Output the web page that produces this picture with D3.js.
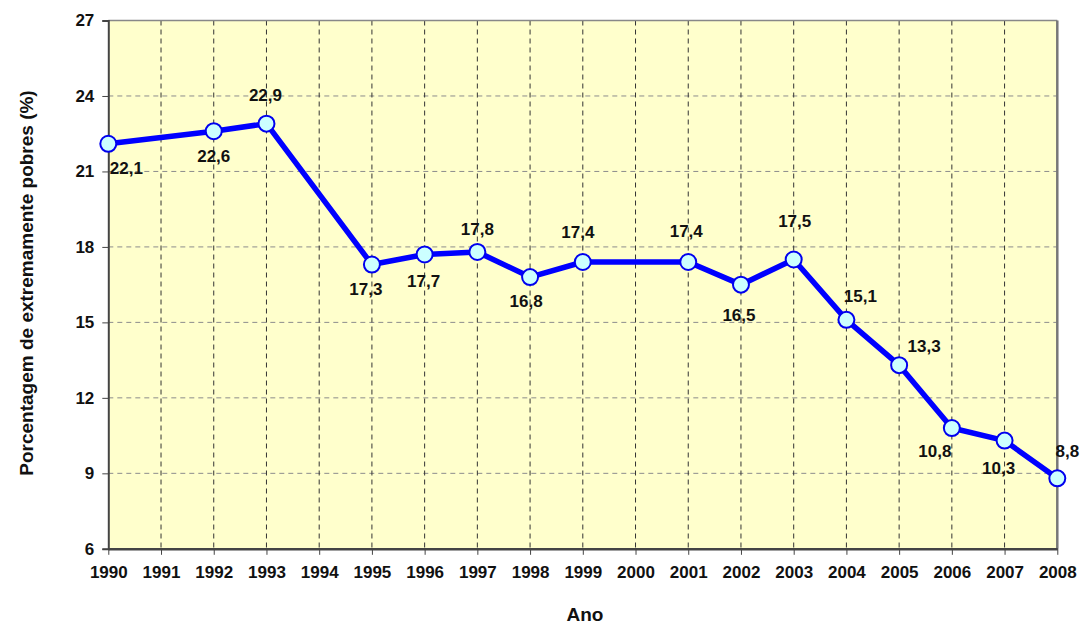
<!DOCTYPE html>
<html><head><meta charset="utf-8">
<script src="https://cdn.jsdelivr.net/npm/d3@7"></script>
<style>body{margin:0;background:#fff}text{font-family:"Liberation Sans",Arial,sans-serif;font-weight:bold;fill:#111}</style>
</head><body>
<svg id="c" width="1082" height="625"></svg>
<script>
const years = ["1990","1991","1992","1993","1994","1995","1996","1997","1998","1999","2000","2001","2002","2003","2004","2005","2006","2007","2008"];
const dataYears = ["1990","1992","1993","1995","1996","1997","1998","1999","2001","2002","2003","2004","2005","2006","2007","2008"];
const values = [22.1,22.6,22.9,17.3,17.7,17.8,16.8,17.4,17.4,16.5,17.5,15.1,13.3,10.8,10.3,8.8];
const labels = ["22,1","22,6","22,9","17,3","17,7","17,8","16,8","17,4","17,4","16,5","17,5","15,1","13,3","10,8","10,3","8,8"];
const yTicks = [6,9,12,15,18,21,24,27];
// label offsets (dx, dy) relative to point, text centre
const labelOffsets = [[18,25],[0,25],[-1,-28],[-6,25],[-1,27],[0,-22],[-4,24],[-5,-30],[-2,-31],[-2,31],[1,-38],[14,-23],[25,-19],[-17,23],[-6,28],[10,-27]];

const svg = d3.select("#c");
const L=108.3, R=1057.3, T=20.5, B=548.8;
const x = d3.scalePoint().domain(years).range([L,R]);
const y = d3.scaleLinear().domain([6,27]).range([B,T]);

svg.append("rect").attr("x",L).attr("y",T).attr("width",R-L).attr("height",B-T).attr("fill","#FFFFCC");

// horizontal grid
svg.append("g").selectAll("line").data(yTicks.filter(d=>d>6&&d<27)).join("line")
 .attr("x1",L).attr("x2",R).attr("y1",d=>y(d)).attr("y2",d=>y(d))
 .attr("stroke","#8c8c8c").attr("stroke-width",1).attr("stroke-dasharray","5,4");
// vertical grid
svg.append("g").selectAll("line").data(years.slice(1,-1)).join("line")
 .attr("x1",d=>x(d)).attr("x2",d=>x(d)).attr("y1",T).attr("y2",B)
 .attr("stroke","#333").attr("stroke-width",1).attr("stroke-dasharray","5,4");

// borders
svg.append("line").attr("x1",L).attr("x2",R).attr("y1",T).attr("y2",T).attr("stroke","#888").attr("stroke-width",1.5);
svg.append("line").attr("x1",R).attr("x2",R).attr("y1",T).attr("y2",B).attr("stroke","#777").attr("stroke-width",2.5);

// axes
const yAxis = d3.axisLeft(y).tickValues(yTicks).tickSize(6).tickPadding(8);
const gy = svg.append("g").attr("transform",`translate(${L},0)`).call(yAxis);
gy.select(".domain").attr("stroke","#444").attr("stroke-width",2);
gy.selectAll(".tick line").attr("stroke","#444");
gy.selectAll(".tick text").style("font-size","17px").attr("fill","#111");

const xAxis = d3.axisBottom(x).tickSize(6).tickSizeOuter(0).tickPadding(11);
const gx = svg.append("g").attr("transform",`translate(0,${B})`).call(xAxis);
gx.select(".domain").attr("stroke","#444").attr("stroke-width",2.5);
gx.selectAll(".tick line").attr("stroke","#444");
gx.selectAll(".tick text").style("font-size","17px").attr("fill","#111");

// line
const pts = dataYears.map((yr,i)=>({yr, v:values[i], lab:labels[i], off:labelOffsets[i]}));
svg.append("path").datum(pts)
 .attr("d", d3.line().x(d=>x(d.yr)).y(d=>y(d.v)))
 .attr("fill","none").attr("stroke","#0000FF").attr("stroke-width",5.5).attr("stroke-linejoin","round");
svg.append("g").selectAll("circle").data(pts).join("circle")
 .attr("cx",d=>x(d.yr)).attr("cy",d=>y(d.v)).attr("r",8)
 .attr("fill","#CCFFFF").attr("stroke","#0000EE").attr("stroke-width",2);

svg.append("g").selectAll("text").data(pts).join("text")
 .attr("x",d=>x(d.yr)+d.off[0]).attr("y",d=>y(d.v)+d.off[1])
 .attr("text-anchor","middle").attr("dominant-baseline","central")
 .style("font-size","17px").text(d=>d.lab);

// titles
svg.append("text").attr("x",585).attr("y",621).attr("text-anchor","middle").style("font-size","19px").text("Ano");
svg.append("text").attr("transform","translate(33,283) rotate(-90)").attr("text-anchor","middle").style("font-size","19px").text("Porcentagem de extremamente pobres (%)");
</script>
</body></html>
